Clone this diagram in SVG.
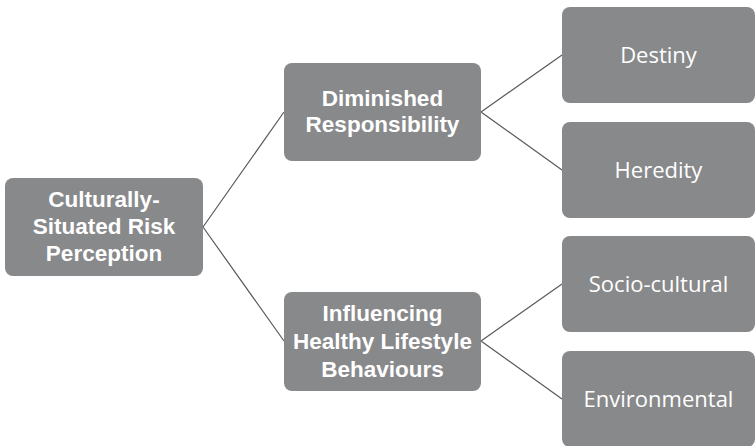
<svg xmlns="http://www.w3.org/2000/svg" width="756" height="446" viewBox="0 0 756 446">
<style>
.box{fill:#88898b;}
.t{font-family:"Liberation Sans",Arial,sans-serif;fill:#ffffff;text-anchor:middle;font-size:22.5px;font-weight:bold;}
.r{font-family:"Open Sans","Liberation Sans",Arial,sans-serif;fill:#ffffff;text-anchor:middle;font-size:22px;}
.c{stroke:#5a5a5a;stroke-width:1.2;fill:none;}
</style>
<rect width="756" height="446" fill="#ffffff"/>
<g id="connectors">
<path class="c" d="M203,227 L284,112 M203,227 L284,341"/>
<path class="c" d="M481,112 L562,55 M481,112 L562,170"/>
<path class="c" d="M481,341 L562,284 M481,341 L562,399"/>
</g>
<g id="root">
<rect class="box" x="5" y="178" width="198" height="98" rx="8"/>
<text class="t" x="104" y="207">Culturally-</text>
<text class="t" x="104" y="234">Situated Risk</text>
<text class="t" x="104" y="261">Perception</text>
</g>
<g id="diminished">
<rect class="box" x="284" y="63" width="197" height="98" rx="8"/>
<text class="t" x="382.5" y="106">Diminished</text>
<text class="t" x="382.5" y="132">Responsibility</text>
</g>
<g id="influencing">
<rect class="box" x="284" y="292" width="197" height="99" rx="8"/>
<text class="t" x="382.5" y="321">Influencing</text>
<text class="t" x="382.5" y="349">Healthy Lifestyle</text>
<text class="t" x="382.5" y="377">Behaviours</text>
</g>
<g id="destiny">
<rect class="box" x="562" y="7" width="193" height="96" rx="8"/>
<text class="r" x="658.5" y="63">Destiny</text>
</g>
<g id="heredity">
<rect class="box" x="562" y="122" width="193" height="96" rx="8"/>
<text class="r" x="658.5" y="178">Heredity</text>
</g>
<g id="sociocultural">
<rect class="box" x="562" y="236" width="193" height="96" rx="8"/>
<text class="r" x="658.5" y="292">Socio-cultural</text>
</g>
<g id="environmental">
<rect class="box" x="562" y="351" width="193" height="96" rx="8"/>
<text class="r" x="658.5" y="407">Environmental</text>
</g>
</svg>
